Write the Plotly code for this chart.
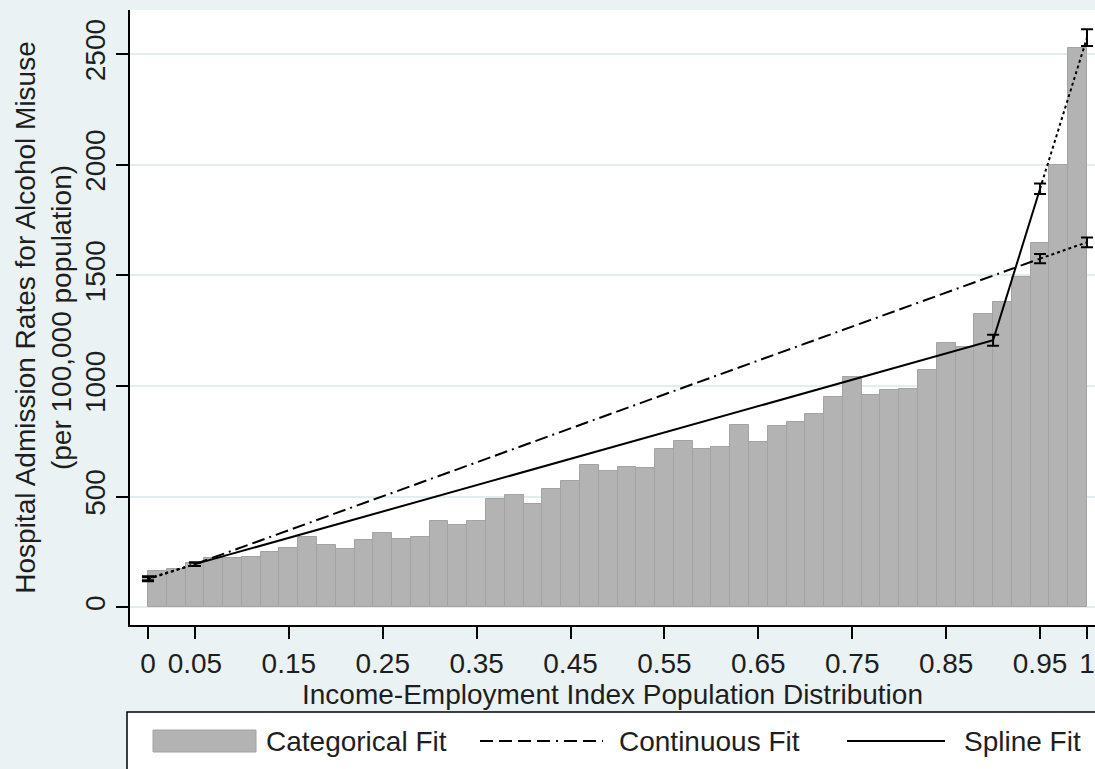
import plotly.graph_objects as go

# Category bins of the income-employment index (population share), width 0.02
bin_centers = [round(0.01 + 0.02 * i, 3) for i in range(50)]
categorical_rates = [
    165, 172, 202, 221, 224, 226, 250, 268, 316, 282,
    264, 306, 334, 310, 319, 390, 371, 390, 488, 508,
    467, 535, 570, 645, 615, 636, 630, 716, 753, 716,
    725, 823, 747, 819, 837, 874, 949, 1040, 958, 982,
    988, 1073, 1193, 1175, 1326, 1382, 1495, 1645, 2001, 2530,
]

# Continuous (linear) fit evaluated at the reported points, with CI half-widths
cont_x = [0.0, 0.05, 0.95, 1.0]
cont_y = [127, 195, 1576, 1650]
cont_err = [9, 8, 21, 22]

# Piecewise-linear spline fit with knot at 0.9
spline_x = [0.0, 0.05, 0.9, 0.95, 1.0]
spline_y = [131, 195, 1207, 1892, 2575]
spline_err = [9, 8, 25, 24, 38]

x_ticks = [0, 0.05, 0.15, 0.25, 0.35, 0.45, 0.55, 0.65, 0.75, 0.85, 0.95, 1]
x_tick_text = ["0", "0.05", "0.15", "0.25", "0.35", "0.45", "0.55", "0.65",
               "0.75", "0.85", "0.95", "1"]
y_ticks = [0, 500, 1000, 1500, 2000, 2500]

legend_labels = ["Categorical Fit", "Continuous Fit", "Spline Fit"]

FONT = "Liberation Sans, Arial, sans-serif"
TEXT = "#1e1e1e"
BG = "#eaf2f3"
GRID = "#e3ecef"
BAR_FILL = "#b3b3b3"
BAR_EDGE = "#a3a3a3"
DASHDOT = "13px,5px,13px,5px,2px,5px"
LEGEND_DASH = "13px,6px,13px,6px,13px,6px,13px,6px,2px,6px"

W, H = 1095, 769
ML, MR, MT, MB = 130, 0, 10, 144

fig = go.Figure()

fig.add_trace(go.Bar(
    x=bin_centers, y=categorical_rates, width=0.02,
    marker=dict(color=BAR_FILL, line=dict(color=BAR_EDGE, width=1)),
    name=legend_labels[0],
))


def segment(xs, ys, i, j, dash, name=None):
    fig.add_trace(go.Scatter(
        x=xs[i:j + 1], y=ys[i:j + 1], mode="lines",
        line=dict(color="black", width=2, dash=dash),
        name=name, hoverinfo="skip",
    ))


# Continuous fit: dotted at the two ends, dash-dot over the core range
segment(cont_x, cont_y, 0, 1, "dot")
segment(cont_x, cont_y, 1, 2, DASHDOT, legend_labels[1])
segment(cont_x, cont_y, 2, 3, "dot")

# Spline fit: dotted at the two ends, solid over the core range
segment(spline_x, spline_y, 0, 1, "dot")
segment(spline_x, spline_y, 1, 3, "solid", legend_labels[2])
segment(spline_x, spline_y, 3, 4, "dot")

for xs, ys, err in [(cont_x, cont_y, cont_err), (spline_x, spline_y, spline_err)]:
    fig.add_trace(go.Scatter(
        x=xs, y=ys, mode="markers",
        marker=dict(size=1, color="rgba(0,0,0,0)"),
        error_y=dict(type="data", array=err, visible=True,
                     color="black", thickness=2, width=6),
        hoverinfo="skip",
    ))


# Key below the x-axis title, laid out in pixels and placed in paper units
def px(x):
    return (x - ML) / (W - ML - MR)


def py(y):
    return (H - MB - y) / (H - MT - MB)


key_mid = 741
shapes = [
    dict(type="rect", xref="paper", yref="paper",
         x0=px(127), x1=px(1110), y0=py(712), y1=py(790),
         fillcolor="white", line=dict(color="black", width=1.5), layer="below"),
    dict(type="rect", xref="paper", yref="paper",
         x0=px(153), x1=px(256), y0=py(730), y1=py(752),
         fillcolor=BAR_FILL, line=dict(color=BAR_EDGE, width=1)),
    dict(type="line", xref="paper", yref="paper",
         x0=px(480), x1=px(603), y0=py(key_mid), y1=py(key_mid),
         line=dict(color="black", width=2, dash=LEGEND_DASH)),
    dict(type="line", xref="paper", yref="paper",
         x0=px(847), x1=px(945), y0=py(key_mid), y1=py(key_mid),
         line=dict(color="black", width=2)),
]
annotations = [
    dict(text=label, xref="paper", yref="paper", x=px(x0), y=py(key_mid),
         xanchor="left", yanchor="middle", showarrow=False,
         font=dict(family=FONT, size=28, color=TEXT))
    for label, x0 in zip(legend_labels, [264, 617, 962])
]

fig.update_layout(
    width=W, height=H,
    margin=dict(l=ML, r=MR, t=MT, b=MB),
    paper_bgcolor=BG, plot_bgcolor="white",
    font=dict(family=FONT, size=28, color=TEXT),
    bargap=0,
    showlegend=False,
    shapes=shapes,
    annotations=annotations,
)

fig.update_xaxes(
    range=[-0.01917, 1.00852], tickvals=x_ticks, ticktext=x_tick_text,
    showgrid=False, zeroline=False,
    showline=True, linecolor="black", linewidth=2,
    ticks="outside", ticklen=12, tickwidth=2, tickcolor="black",
    title=dict(text="Income-Employment Index Population Distribution",
               standoff=4, font=dict(size=28)),
)
fig.update_yaxes(
    range=[-80, 2700], tickvals=y_ticks, tickangle=-90,
    showgrid=True, gridcolor=GRID, gridwidth=2, zeroline=False,
    showline=True, linecolor="black", linewidth=2,
    ticks="outside", ticklen=12, tickwidth=2, tickcolor="black",
    title=dict(text="Hospital Admission Rates for Alcohol Misuse<br>(per 100,000 population)",
               standoff=0, font=dict(size=28)),
)

fig.write_html("out.html")
